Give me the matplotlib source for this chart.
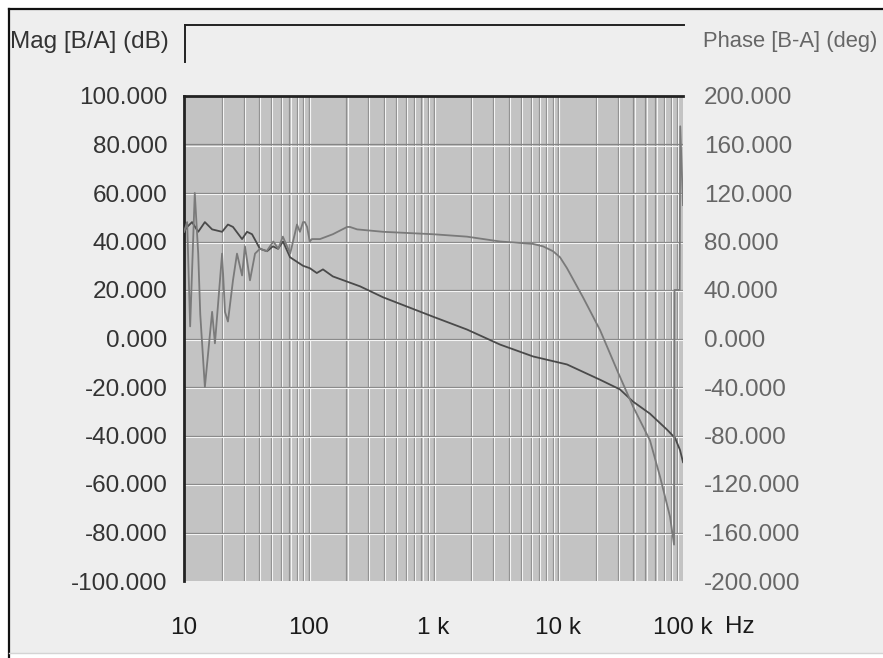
import matplotlib
matplotlib.use('Agg')
import matplotlib.pyplot as plt
from matplotlib.lines import Line2D
from matplotlib.patches import Rectangle
from matplotlib.transforms import offset_copy
from matplotlib.ticker import FixedLocator, FuncFormatter
import numpy as np

plt.rcParams['font.family'] = ['Liberation Sans', 'DejaVu Sans']

# magnitude trace (dB)
mag_freq = [10, 10.6, 11.6, 13, 14.7, 16.8, 20.2, 22.5, 24.7, 29.2, 32, 35.1,
            40.6, 46.3, 51.6, 56.7, 62.2, 70.8, 89.9, 102, 116, 130, 156, 258,
            394, 991, 1856, 3415, 6280, 11750, 21620, 31260, 39720, 54340,
            74470, 86330, 94660, 100000]
mag_db = [44, 46, 48, 44, 48, 45, 44, 47, 46, 41, 44, 43,
          37, 36, 38, 37, 40, 33.5, 30, 29, 27, 28.5, 25.6, 21.5,
          17, 9, 3.7, -2.5, -7.4, -10.7, -17, -21, -26, -31,
          -37.6, -41, -46, -51]

# phase trace (deg)
ph_freq = [10, 10.6, 11.2, 12.2, 13, 13.5, 14.7, 16.8, 17.7, 20.2, 21.3, 22.5,
           24.7, 26.6, 29.2, 30.8, 33.8, 37.1, 40.6, 46, 52, 57, 62, 71, 80.5,
           85, 90, 93, 97, 102, 106, 123, 156, 203, 214, 244, 394, 991, 1856,
           3415, 6280, 7555, 9080, 10330, 11750, 15790, 21620, 29580, 39720,
           54340, 65460, 78720, 84750, 85500, 94000, 95000, 100000]
ph_deg = [88, 96, 10, 120, 70, 20, -40, 22, -4, 70, 22, 14,
          48, 70, 52, 76, 48, 70, 74, 72, 80, 74, 84, 70, 94,
          88, 96, 96, 92, 80, 82, 82, 86, 92, 92, 90, 88, 86, 84,
          80, 78, 76, 72, 67, 58, 34, 7, -26, -56,
          -84, -114, -147, -170, 40, 40, 175, 110]

xtick_vals = [10, 100, 1000, 10000, 100000]
xtick_labels = ['10', '100', '1 k', '10 k', '100 k']

fig = plt.figure(figsize=(8.83, 6.58), dpi=100)
fig.patch.set_facecolor('white')

W, H = 883.0, 658.0
def fx(px):
    return px / W
def fy(py):
    return 1 - py / H

FS = 17.5

# panel background and frame
fig.patches.append(Rectangle((fx(9), fy(653)), 1 - fx(9), fy(9) - fy(653),
                             transform=fig.transFigure, facecolor='#eeeeee',
                             edgecolor='none', zorder=-10))
fig.lines.append(Line2D([fx(9), 1], [fy(9), fy(9)], transform=fig.transFigure, color='#111111', lw=1.6))
fig.lines.append(Line2D([fx(9), fx(9)], [fy(9), 0], transform=fig.transFigure, color='#111111', lw=1.6))
fig.lines.append(Line2D([fx(9), 1], [fy(653), fy(653)], transform=fig.transFigure, color='#d4d4d4', lw=1.0))
# legend box edges
fig.lines.append(Line2D([fx(185), fx(684)], [fy(25), fy(25)], transform=fig.transFigure, color='#222222', lw=1.4))
fig.lines.append(Line2D([fx(185), fx(185)], [fy(25), fy(62)], transform=fig.transFigure, color='#222222', lw=1.4))

ax = fig.add_axes([fx(184), fy(581), fx(683) - fx(184), fy(96) - fy(581)])
ax.set_facecolor('#c3c3c3')
ax.set_xscale('log')
ax.set_xlim(10, 100000)
ax.set_ylim(-100, 100)

# grid: dark line with a white line beside it
tx = ax.get_xaxis_transform()
tx_w = offset_copy(tx, fig=fig, x=1.2, y=0, units='dots')
for dec in [10, 100, 1000, 10000]:
    for m in range(1, 11):
        f = dec * m
        if f <= 10 or f >= 100000:
            continue
        ax.plot([f, f], [0, 1], transform=tx, color='#8e8e8e', lw=0.9, zorder=1)
        ax.plot([f, f], [0, 1], transform=tx_w, color='#f4f4f4', lw=0.8, zorder=1)
ty = ax.get_yaxis_transform()
ty_w = offset_copy(ty, fig=fig, x=0, y=-1.2, units='dots')
for v in range(-80, 100, 20):
    ax.plot([0, 1], [v, v], transform=ty, color='#858585', lw=0.9, zorder=1.5)
    ax.plot([0, 1], [v, v], transform=ty_w, color='#f4f4f4', lw=0.8, zorder=1.5)

for s in ['right', 'bottom']:
    ax.spines[s].set_visible(False)
for s in ['left', 'top']:
    ax.spines[s].set_color('#222222')
    ax.spines[s].set_linewidth(2)

ax.plot(mag_freq, mag_db, color='#4a4a4a', lw=1.3, zorder=4)

ax.xaxis.set_major_locator(FixedLocator(xtick_vals))
ax.xaxis.set_minor_locator(FixedLocator([]))
ax.set_xticklabels(xtick_labels)
ax.set_yticks(np.arange(-100, 101, 20))
ax.yaxis.set_major_formatter(FuncFormatter(lambda v, p: '%.3f' % v))
ax.tick_params(axis='x', length=0, pad=26, labelsize=FS, labelcolor='#1a1a1a')
ax.tick_params(axis='y', length=0, pad=12, labelsize=FS, labelcolor='#333333')

ax2 = ax.twinx()
ax2.set_ylim(-200, 200)
ax2.set_yticks(np.arange(-200, 201, 40))
ax2.yaxis.set_major_formatter(FuncFormatter(lambda v, p: '%.3f' % v))
ax2.tick_params(axis='y', length=0, pad=15, labelsize=FS, labelcolor='#666666')
for s in ax2.spines.values():
    s.set_visible(False)
ax2.plot(ph_freq, ph_deg, color='#7a7a7a', lw=1.3, zorder=3)

fig.text(fx(10), fy(42), 'Mag [B/A] (dB)', fontsize=FS, color='#333333', va='center', ha='left')
fig.text(fx(703), fy(42), 'Phase [B-A] (deg)', fontsize=15.8, color='#666666', va='center', ha='left')
fig.text(fx(725), fy(627), 'Hz', fontsize=FS, color='#1a1a1a', va='center', ha='left')

fig.savefig('out.png', dpi=100, facecolor=fig.get_facecolor())
